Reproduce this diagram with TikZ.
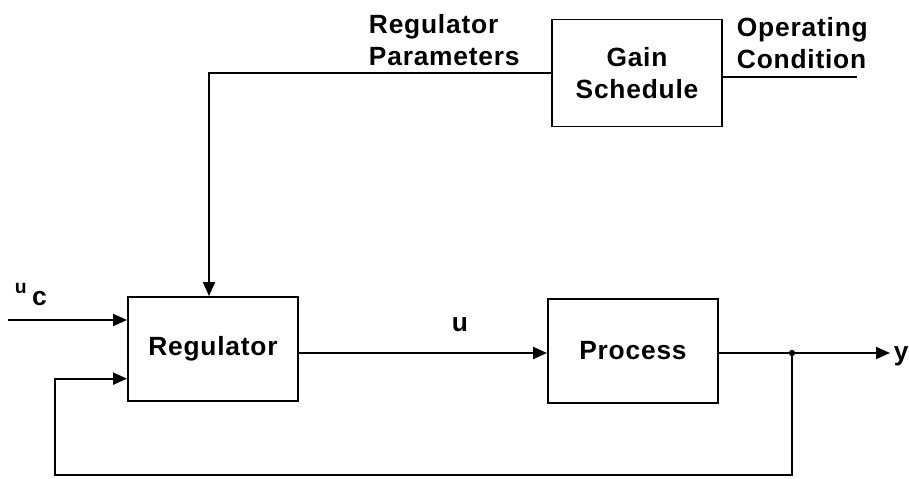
\documentclass[tikz,border=0pt]{standalone}
\usepackage{fontspec}
\setmainfont[LetterSpace=3]{Liberation Sans}
\usetikzlibrary{positioning,arrows.meta,calc}

\begin{document}
\begin{tikzpicture}[x=0.02cm, y=-0.02cm, line width=1.1pt,
  font=\fontsize{15}{18.6}\selectfont\bfseries, >={Triangle[length=2.8mm,width=2.4mm]},
  blk/.style={draw, align=center, inner sep=0pt, minimum width=3.4cm, minimum height=2.08cm},
  lbl/.style={inner sep=0pt, align=left}]
\useasboundingbox (0,0) rectangle (909,479);
% blocks
\node[blk] (reg)  at (213,349) {Regulator};
\node[blk] (proc) at (633,351) {Process};
\node[blk, minimum height=2.14cm] (gain) at (637,73) {Gain\\Schedule};
% free ends and bends
\coordinate (uc)   at (8,320);
\coordinate (fb)   at (792,353);
\coordinate (yend) at (890,353);
\coordinate (fbl)  at (55,475);
\coordinate (rp)   at (209,73);
\coordinate (oc)   at (857,77);
% signals
\draw[->] (uc) -- (reg.west |- uc);
\draw[->] (reg.east |- fb) -- (proc.west |- fb);
\draw[->] (proc.east |- fb) -- (yend);
\fill (fb) circle (1.8pt);
\draw[->] (fb) |- (fbl) |- ($(reg.south west)!0.22!(reg.north west)$);
\draw[->] (gain.west) -- (rp) -- (rp |- reg.north);
\draw (gain.east |- oc) -- (oc);
% labels
\node[lbl, anchor=south west] (rplbl) at (368,67) {Regulator\\Parameters};
\node[lbl, anchor=south west] (oclbl) at (736,70) {Operating\\Condition};
\node[lbl, anchor=base] (ulbl) at (460,332) {u};
\node[lbl, anchor=base west] (uclbl) at (14,306) {\raisebox{7pt}{\fontsize{11}{12}\selectfont u}\hspace{3pt}c};
\node[lbl, anchor=base west] (ylbl) at (893,360) {y};
\end{tikzpicture}
\end{document}
